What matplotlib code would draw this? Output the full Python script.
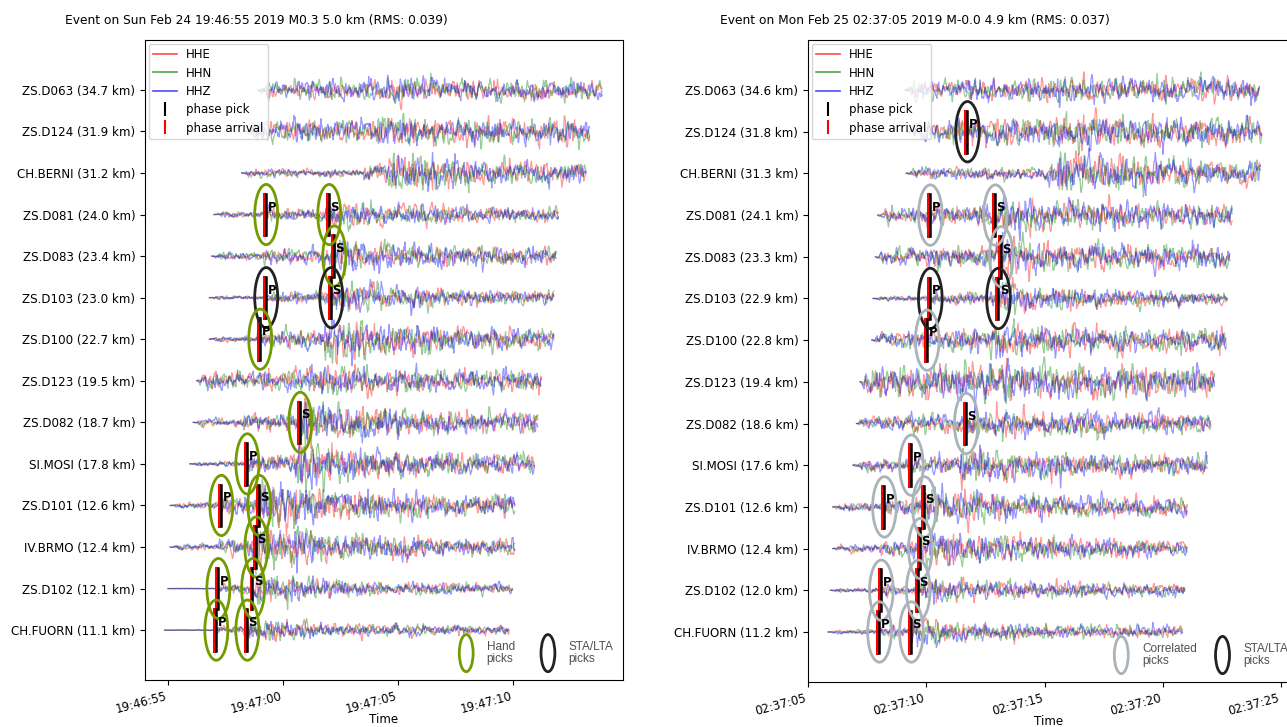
import numpy as np
import matplotlib.pyplot as plt
from matplotlib.patches import Ellipse
from matplotlib.lines import Line2D
from matplotlib.ticker import MultipleLocator, FuncFormatter

# ---- event 1 ----
title1 = "Event on Sun Feb 24 19:46:55 2019 M0.3 5.0 km (RMS: 0.039)"
t0_1 = 19 * 3600 + 46 * 60 + 55
labels1 = ["ZS.D063 (34.7 km)", "ZS.D124 (31.9 km)", "CH.BERNI (31.2 km)", "ZS.D081 (24.0 km)",
           "ZS.D083 (23.4 km)", "ZS.D103 (23.0 km)", "ZS.D100 (22.7 km)", "ZS.D123 (19.5 km)",
           "ZS.D082 (18.7 km)", "SI.MOSI (17.8 km)", "ZS.D101 (12.6 km)", "IV.BRMO (12.4 km)",
           "ZS.D102 (12.1 km)", "CH.FUORN (11.1 km)"]
start1 = [3.9, 3.35, 3.2, 2.0, 1.9, 1.8, 1.8, 1.25, 1.1, 0.95, 0.1, 0.1, 0.0, -0.15]
p_on1 = [5.5, 5.2, 8.5, 4.17, 4.1, 4.17, 3.9, 3.5, 3.3, 3.35, 2.22, 2.2, 2.09, 2.0]
s_on1 = [9.5, 9.0, 9.6, 6.91, 7.13, 7.0, 6.8, 6.0, 5.65, 5.5, 3.87, 3.74, 3.6, 3.35]
noise1 = [0.22, 0.28, 0.1, 0.08, 0.1, 0.05, 0.08, 0.25, 0.1, 0.07, 0.08, 0.07, 0.01, 0.01]
amp1 = [0.1, 0.1, 0.35, 0.25, 0.3, 0.28, 0.4, 0.1, 0.4, 0.45, 0.45, 0.4, 0.3, 0.25]
pick_sta1 = [3, 3, 4, 5, 5, 6, 8, 9, 10, 10, 11, 12, 12, 13, 13]
pick_phase1 = ["P", "S", "S", "P", "S", "P", "S", "P", "P", "S", "S", "P", "S", "P", "S"]
pick_time1 = [4.17, 6.91, 7.13, 4.17, 7.0, 3.91, 5.65, 3.35, 2.22, 3.87, 3.74, 2.09, 3.6, 2.0, 3.35]
pick_kind1 = ["hand", "hand", "hand", "auto", "auto", "hand", "hand", "hand",
              "hand", "hand", "hand", "hand", "hand", "hand", "hand"]

# ---- event 2 ----
title2 = "Event on Mon Feb 25 02:37:05 2019 M-0.0 4.9 km (RMS: 0.037)"
t0_2 = 2 * 3600 + 37 * 60 + 5
labels2 = ["ZS.D063 (34.6 km)", "ZS.D124 (31.8 km)", "CH.BERNI (31.3 km)", "ZS.D081 (24.1 km)",
           "ZS.D083 (23.3 km)", "ZS.D103 (22.9 km)", "ZS.D100 (22.8 km)", "ZS.D123 (19.4 km)",
           "ZS.D082 (18.6 km)", "SI.MOSI (17.6 km)", "ZS.D101 (12.6 km)", "IV.BRMO (12.4 km)",
           "ZS.D102 (12.0 km)", "CH.FUORN (11.2 km)"]
start2 = [4.1, 4.2, 4.15, 2.95, 2.85, 2.75, 2.7, 2.2, 2.05, 1.9, 1.05, 1.05, 0.95, 0.85]
p_on2 = [7.0, 6.64, 10.0, 5.07, 5.0, 5.07, 4.94, 4.5, 4.3, 4.27, 3.13, 3.1, 3.0, 2.92]
s_on2 = [10.0, 10.5, 10.5, 7.82, 8.07, 7.95, 7.7, 6.8, 6.59, 6.4, 4.82, 4.65, 4.56, 4.27]
noise2 = [0.25, 0.3, 0.15, 0.2, 0.22, 0.06, 0.2, 0.38, 0.18, 0.15, 0.12, 0.1, 0.06, 0.06]
amp2 = [0.1, 0.15, 0.35, 0.2, 0.2, 0.28, 0.2, 0.1, 0.2, 0.25, 0.3, 0.3, 0.25, 0.22]
pick_sta2 = [1, 3, 3, 4, 5, 5, 6, 8, 9, 10, 10, 11, 12, 12, 13, 13]
pick_phase2 = ["P", "P", "S", "S", "P", "S", "P", "S", "P", "P", "S", "S", "P", "S", "P", "S"]
pick_time2 = [6.64, 5.07, 7.82, 8.07, 5.07, 7.95, 4.94, 6.59, 4.27, 3.13, 4.82, 4.65, 3.0, 4.56, 2.92, 4.27]
pick_kind2 = ["auto", "corr", "corr", "corr", "auto", "auto", "corr", "corr",
              "corr", "corr", "corr", "corr", "corr", "corr", "corr", "corr"]

trace_len = 15.0
sps = 40
comp_names = ["HHE", "HHN", "HHZ"]
comp_colors = ["red", "green", "blue"]
kind_colors = {"hand": "#739b00", "auto": "#222222", "corr": "#aab3b9"}

rng = np.random.default_rng(7)


def hms(v, pos=None):
    v = int(round(v))
    return "%02d:%02d:%02d" % (v // 3600, v % 3600 // 60, v % 60)


def draw_event(ax, t0, labels, start, p_on, s_on, noise, amp,
               psta, pphase, ptime, pkind, xlim, title, title_x, legend_kinds):
    n = len(labels)
    for i in range(n):
        y = n - 1 - i
        t = np.arange(0, trace_len, 1.0 / sps) + start[i]
        env = noise[i] * np.ones_like(t)
        env += (t > p_on[i]) * amp[i] * 0.35
        ds = t - s_on[i]
        env += (ds > 0) * amp[i] * np.exp(-np.clip(ds, 0, None) / 4.0)
        taper = np.clip((t - start[i]) / 0.4, 0, 1)
        for c in range(3):
            w = rng.normal(0, 1, t.size)
            w = np.convolve(w, np.ones(3) / 3, mode="same") * 1.4
            ax.plot(t0 + t, y + w * env * taper * 0.5, color=comp_colors[c],
                    lw=0.9, alpha=0.4, zorder=2)
    for s, ph, tp, k in zip(psta, pphase, ptime, pkind):
        y = n - 1 - s
        ax.plot([t0 + tp, t0 + tp], [y - 0.5, y + 0.5], color="red", lw=2.2, zorder=4)
        ax.plot([t0 + tp + 0.07, t0 + tp + 0.07], [y - 0.5, y + 0.5], color="black", lw=1.8, zorder=4)
        ax.text(t0 + tp + 0.15, y + 0.18, ph, fontsize=8.5, fontweight="bold", ha="left",
                va="center", zorder=5)
        ax.add_patch(Ellipse((t0 + tp + 0.1, y), 1.0, 1.45, fill=False,
                             ec=kind_colors[k], lw=2, zorder=5))
    ax.set_yticks(range(n))
    ax.set_yticklabels(labels[::-1], fontsize=8.6)
    ax.set_ylim(-1.2, n + 0.2)
    ax.set_xlim(t0 + xlim[0], t0 + xlim[1])
    ax.xaxis.set_major_locator(MultipleLocator(5))
    ax.xaxis.set_major_formatter(FuncFormatter(hms))
    for lab in ax.get_xticklabels():
        lab.set_rotation(15)
        lab.set_ha("right")
        lab.set_fontsize(8.5)
    ax.set_xlabel("Time", fontsize=8.6)
    ax.xaxis.set_label_coords(0.5, -0.052)
    ax.text(title_x, 1.02, title, transform=ax.transAxes, fontsize=8.8,
            ha="center", va="bottom")

    handles = [Line2D([], [], color=comp_colors[c], alpha=0.7, lw=1.2, label=comp_names[c])
               for c in range(3)]
    handles.append(Line2D([], [], color="black", marker="|", ls="none", ms=10, mew=1.5,
                          label="phase pick"))
    handles.append(Line2D([], [], color="red", marker="|", ls="none", ms=10, mew=1.5,
                          label="phase arrival"))
    ax.legend(handles=handles, loc="upper left", fontsize=8.5, borderaxespad=0.3,
              labelspacing=0.45, handletextpad=0.8, framealpha=0.8)

    for xe, k, txt in legend_kinds:
        ax.add_patch(Ellipse((xe, 0.042), 0.029, 0.058, transform=ax.transAxes,
                             fill=False, ec=kind_colors[k], lw=2, zorder=5))
        ax.text(xe + 0.043, 0.042, txt, transform=ax.transAxes, fontsize=8.5,
                family="Liberation Sans", color="#505050", va="center", ha="left",
                linespacing=1.0)


fig = plt.figure(figsize=(12.87, 7.27), dpi=100)
ax1 = fig.add_axes([145 / 1287, 1 - 680 / 727, 478 / 1287, 640 / 727])
ax2 = fig.add_axes([808 / 1287, 1 - 682 / 727, 482 / 1287, 642 / 727])

draw_event(ax1, t0_1, labels1, start1, p_on1, s_on1, noise1, amp1,
           pick_sta1, pick_phase1, pick_time1, pick_kind1, (-1.0, 19.78), title1, 0.234,
           [(0.672, "hand", "Hand\npicks"), (0.843, "auto", "STA/LTA\npicks")])
draw_event(ax2, t0_2, labels2, start2, p_on2, s_on2, noise2, amp2,
           pick_sta2, pick_phase2, pick_time2, pick_kind2, (0.0, 20.37), title2, 0.222,
           [(0.650, "corr", "Correlated\npicks"), (0.860, "auto", "STA/LTA\npicks")])

fig.savefig("out.png", dpi=100)
